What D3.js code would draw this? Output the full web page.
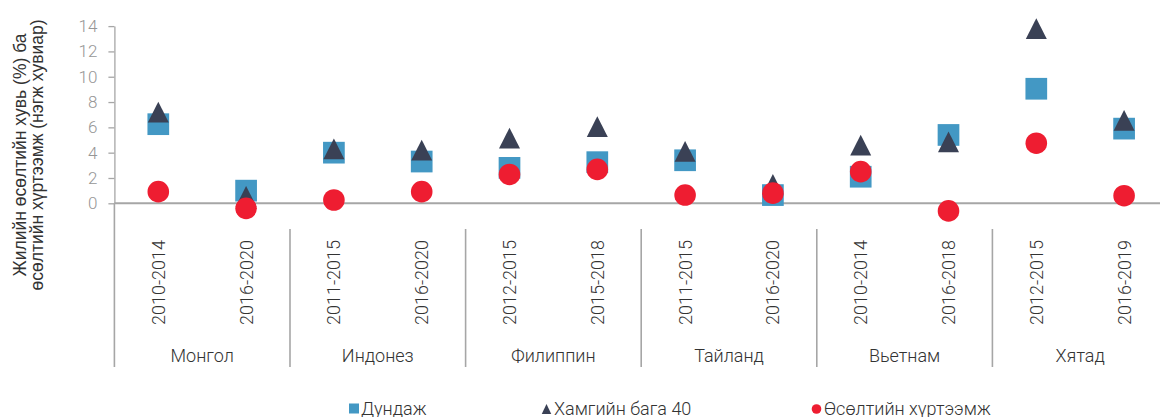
<!DOCTYPE html>
<html>
<head>
<meta charset="utf-8">
<script src="https://cdn.jsdelivr.net/npm/d3@7"></script>
<style>
  html, body { margin: 0; padding: 0; background: #fff; overflow: hidden; }
  svg { display: block; font-family: Roboto, "Noto Sans", sans-serif; }
</style>
</head>
<body>
<div id="chart"></div>
<script>
const countries = ["Монгол", "Индонез", "Филиппин", "Тайланд", "Вьетнам", "Хятад"];
const periods = ["2010-2014", "2016-2020", "2011-2015", "2016-2020", "2012-2015", "2015-2018",
                 "2011-2015", "2016-2020", "2010-2014", "2016-2018", "2012-2015", "2016-2019"];
const average = [6.25, 1.0, 4.0, 3.3, 2.8, 3.25, 3.4, 0.65, 2.1, 5.4, 9.05, 5.9];
const bottom40 = [7.2, 0.55, 4.3, 4.2, 5.15, 6.05, 4.1, 1.5, 4.6, 4.85, 13.8, 6.55];
const growth = [0.92, -0.4, 0.26, 0.92, 2.28, 2.68, 0.65, 0.8, 2.5, -0.6, 4.75, 0.6];
const yTicks = [0, 2, 4, 6, 8, 10, 12, 14];
const legendLabels = ["Дундаж", "Хамгийн бага 40", "Өсөлтийн хүртээмж"];

const width = 1160, height = 417;
const marginLeft = 114.4, plotRight = 1168, yTop = 26.1, yZero = 203.3;
const axisColor = "#a6a6a6";
const colSquare = "#4398c4", colTri = "#3a4155", colCircle = "#ee1d31";

const svg = d3.select("#chart").append("svg")
  .attr("width", width).attr("height", height)
  .attr("viewBox", [0, 0, width, height]);

const idx = periods.map((d, i) => i);
const x = d3.scaleBand().domain(idx).range([marginLeft, plotRight]).padding(0);
const xc = i => x(i) + x.bandwidth() / 2;
const y = d3.scaleLinear().domain([0, 14]).range([yZero, yTop]);

// Y axis
const yAxis = svg.append("g")
  .attr("transform", `translate(${marginLeft},0)`)
  .call(d3.axisLeft(y).tickValues(yTicks).tickSize(6).tickPadding(11).tickSizeOuter(0));
yAxis.select(".domain").attr("stroke", axisColor).attr("stroke-width", 1.3);
yAxis.selectAll(".tick line").attr("stroke", axisColor).attr("stroke-width", 1.3);
yAxis.selectAll(".tick text")
  .attr("font-family", "Roboto").attr("font-weight", 300)
  .attr("font-size", 17).attr("fill", "#969696");

// zero line
svg.append("line")
  .attr("x1", marginLeft).attr("x2", width)
  .attr("y1", y(0)).attr("y2", y(0))
  .attr("stroke", axisColor).attr("stroke-width", 2);

// category separators
const groupEdges = d3.range(countries.length).map(g => x(g * 2));
svg.append("g").selectAll("line")
  .data(groupEdges)
  .join("line")
  .attr("x1", d => d).attr("x2", d => d)
  .attr("y1", (d, i) => i === 0 ? y(0) : 229)
  .attr("y2", 367)
  .attr("stroke", axisColor).attr("stroke-width", 1.6);

// period labels
svg.append("g").selectAll("text")
  .data(idx)
  .join("text")
  .attr("transform", i => `translate(${xc(i)},240) rotate(-90)`)
  .attr("text-anchor", "end")
  .attr("dy", "0.36em")
  .attr("font-family", "Roboto").attr("font-weight", 300)
  .attr("font-size", 18).attr("fill", "#333")
  .text(i => periods[i]);

// country labels
svg.append("g").selectAll("text")
  .data(countries)
  .join("text")
  .attr("x", (d, g) => (x(g * 2) + x(g * 2 + 1) + x.bandwidth()) / 2)
  .attr("y", 362)
  .attr("text-anchor", "middle")
  .attr("font-family", "Roboto").attr("font-weight", 300)
  .attr("font-size", 18).attr("fill", "#333")
  .text(d => d);

// y axis title
const title = svg.append("text")
  .attr("transform", "translate(0,155) rotate(-90)")
  .attr("text-anchor", "middle")
  .attr("font-family", "Liberation Sans, Arial, sans-serif")
  .attr("font-size", 17.5).attr("fill", "#333");
title.append("tspan").attr("x", 0).attr("y", 26).text("Жилийн өсөлтийн хувь (%) ба");
title.append("tspan").attr("x", 0).attr("y", 43).text("өсөлтийн хүртээмж (нэгж хувиар)");

// markers
const sq = 21.7;
svg.append("g").selectAll("rect")
  .data(idx)
  .join("rect")
  .attr("x", i => xc(i) - sq / 2)
  .attr("y", i => y(average[i]) - sq / 2)
  .attr("width", sq).attr("height", sq)
  .attr("fill", colSquare);

const tw = 21, th = 20.7;
const triPath = (cx, cy, w, h) => `M${cx},${cy - h / 2}L${cx + w / 2},${cy + h / 2}L${cx - w / 2},${cy + h / 2}Z`;
svg.append("g").selectAll("path")
  .data(idx)
  .join("path")
  .attr("d", i => triPath(xc(i), y(bottom40[i]), tw, th))
  .attr("fill", colTri);

svg.append("g").selectAll("circle")
  .data(idx)
  .join("circle")
  .attr("cx", xc)
  .attr("cy", i => y(growth[i]))
  .attr("r", 10.8)
  .attr("fill", colCircle);

// legend
const legendY = 408.5;
const legendX = [349, 542, 812];
const leg = svg.append("g");
leg.append("rect").attr("x", legendX[0]).attr("y", legendY - 5).attr("width", 10).attr("height", 10).attr("fill", colSquare);
leg.append("path").attr("d", triPath(legendX[1] + 4.5, legendY + 0.5, 9.5, 10)).attr("fill", colTri);
leg.append("circle").attr("cx", legendX[2] + 4.5).attr("cy", legendY + 0.5).attr("r", 4.8).attr("fill", colCircle);
leg.selectAll("text.lbl")
  .data(legendLabels)
  .join("text")
  .attr("class", "lbl")
  .attr("x", (d, i) => legendX[i] + 12)
  .attr("y", 414.5)
  .attr("font-family", "Roboto").attr("font-weight", 300)
  .attr("font-size", 18).attr("fill", "#333")
  .text(d => d);
</script>
</body>
</html>
